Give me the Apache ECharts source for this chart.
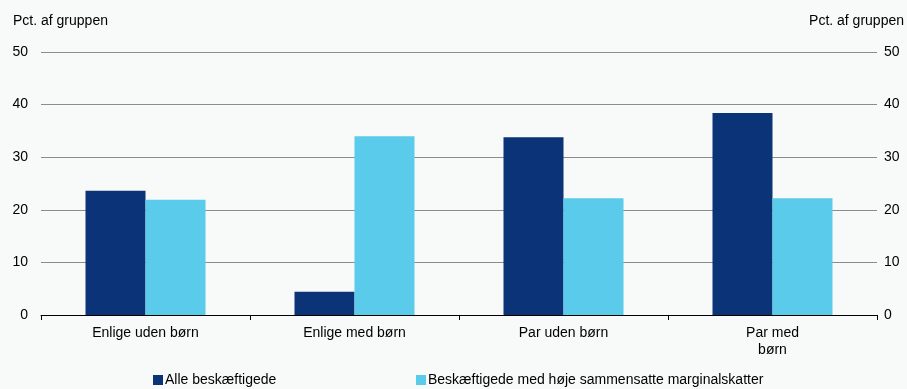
<!DOCTYPE html>
<html><head><meta charset="utf-8">
<script src="https://cdn.jsdelivr.net/npm/echarts@6/dist/echarts.min.js"></script>
<style>html,body{margin:0;padding:0;background:#f8f9f9}#c{width:907px;height:389px}</style>
</head><body><div id="c"></div>
<script>
var categories = ['Enlige uden børn', 'Enlige med børn', 'Par uden børn', 'Par med\nbørn'];
var seriesNames = ['Alle beskæftigede', 'Beskæftigede med høje sammensatte marginalskatter'];
var alleValues = [23.6, 4.4, 33.8, 38.4];
var hojeValues = [21.9, 34.0, 22.2, 22.2];
var yTicks = { min: 0, max: 50, interval: 10 };
var axisTitle = 'Pct. af gruppen';

var font = 'Liberation Sans, Arial, sans-serif';
var chart = echarts.init(document.getElementById('c'));
chart.setOption({
  backgroundColor: '#f8f9f9',
  animation: false,
  textStyle: { fontFamily: font },
  grid: { left: 41, right: 28, top: 52, bottom: 74, containLabel: false },
  legend: [
    { data: [seriesNames[0]], left: 148, top: 368, icon: 'rect', itemWidth: 10, itemHeight: 10, itemGap: 4,
      textStyle: { fontSize: 14, color: '#000', fontFamily: font, padding: [0,0,0,-3] } },
    { data: [seriesNames[1]], left: 411, top: 368, icon: 'rect', itemWidth: 10, itemHeight: 10, itemGap: 4,
      textStyle: { fontSize: 14, color: '#000', fontFamily: font, padding: [0,0,0,-3] } }
  ],
  xAxis: {
    type: 'category', data: categories,
    axisLine: { lineStyle: { color: '#000', width: 1 } },
    axisTick: { show: true, alignWithLabel: false, length: 5, lineStyle: { color: '#000' } },
    axisLabel: { fontSize: 14, color: '#000', margin: 10, lineHeight: 17, fontFamily: font }
  },
  yAxis: [
    { type: 'value', min: yTicks.min, max: yTicks.max, interval: yTicks.interval,
      name: axisTitle, nameLocation: 'end', nameGap: 24,
      nameTextStyle: { fontSize: 14, color: '#000', align: 'left', padding: [0,0,0,-28], fontFamily: font },
      axisLine: { show: false }, axisTick: { show: false },
      axisLabel: { fontSize: 14, color: '#000', margin: 13, fontFamily: font },
      splitLine: { lineStyle: { color: '#8c8c8c', width: 1 } } },
    { type: 'value', min: yTicks.min, max: yTicks.max, interval: yTicks.interval, position: 'right',
      name: axisTitle, nameLocation: 'end', nameGap: 24,
      nameTextStyle: { fontSize: 14, color: '#000', align: 'right', padding: [0,-27,0,0], fontFamily: font },
      axisLine: { show: false }, axisTick: { show: false },
      axisLabel: { fontSize: 14, color: '#000', margin: 7, fontFamily: font },
      splitLine: { show: false } }
  ],
  series: [
    { name: seriesNames[0], type: 'bar', data: alleValues, barWidth: 60, barGap: '0%',
      itemStyle: { color: '#0a3378' } },
    { name: seriesNames[1], type: 'bar', data: hojeValues, barWidth: 60, barGap: '0%',
      itemStyle: { color: '#5bcbeb' } }
  ]
});
</script></body></html>
